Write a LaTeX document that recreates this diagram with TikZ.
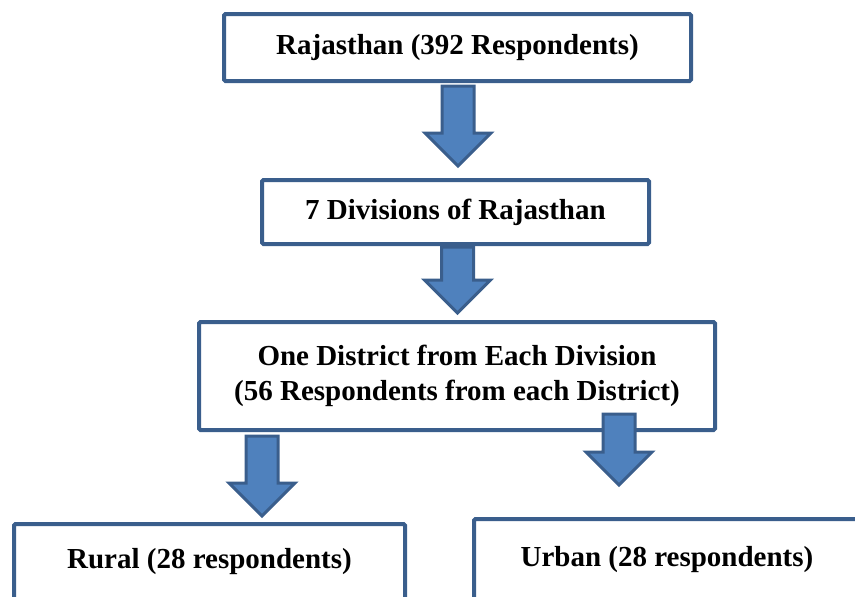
\documentclass[tikz,border=0pt]{standalone}
\usepackage{fontspec}
\setmainfont{Liberation Serif}
\usetikzlibrary{positioning, calc}
\definecolor{boxblue}{RGB}{58,94,140}
\definecolor{arrowblue}{RGB}{79,129,189}

% block arrow pointing down, from #1 (top of shaft) to #2 (tip)
\newcommand{\blockarrow}[2]{%
	\draw[blockarr] ($(#1)+(-16,0)$) -- ($(#2)+(-16,-33)$) -- ($(#2)+(-33,-33)$) -- (#2)
		-- ($(#2)+(33,-33)$) -- ($(#2)+(16,-33)$) -- ($(#1)+(16,0)$) -- cycle;}

\begin{document}
\begin{tikzpicture}[x=1pt, y=-1pt,
	stage/.style={draw=boxblue, line width=4pt, fill=white, rounded corners=1.5pt, align=center, inner sep=0pt,
		font=\bfseries\fontsize{29}{35}\selectfont},
	blockarr/.style={draw=boxblue, line width=3pt, fill=arrowblue, line join=miter}]
			\useasboundingbox (0,0) rectangle (855,597);

			\node[stage, minimum width=467pt, minimum height=67pt] at (457.5, 47.5) (rajasthan) {Rajasthan (392 Respondents)};
			\node[stage, minimum width=387pt, minimum height=64pt] at (455.5, 212)  (divisions) {7 Divisions of Rajasthan};
			\node[stage, minimum width=516pt, minimum height=108pt] at (457, 376)  (district)  {One District from Each Division\\(56 Respondents from each District)};
			\node[stage, minimum width=391pt, minimum height=76pt] at (209.5, 562) (rural)     {Rural (28 respondents)};
			\node[stage, minimum width=386pt, minimum height=81pt] at (667, 559.5) (urban)     {Urban (28 respondents)};

			\coordinate (a1top) at ($(rajasthan.south)+(0.5,3)$);
			\coordinate (a1tip) at ($(a1top |- divisions.north)+(0,-12)$);
			\coordinate (a2top) at ($(divisions.south)+(2,1)$);
			\coordinate (a2tip) at ($(a2top |- district.north)+(0,-7)$);
			\coordinate (a3top) at ($(district.south)+(-195,4)$);
			\coordinate (a3tip) at ($(a3top |- rural.north)+(0,-6)$);
			\coordinate (a4top) at ($(district.south)+(162,-18)$);
			\coordinate (a4tip) at ($(a4top |- urban.north)+(0,-32)$);

			\blockarrow{a1top}{a1tip}
			\blockarrow{a2top}{a2tip}
			\blockarrow{a3top}{a3tip}
			\blockarrow{a4top}{a4tip}

		\end{tikzpicture}
\end{document}
